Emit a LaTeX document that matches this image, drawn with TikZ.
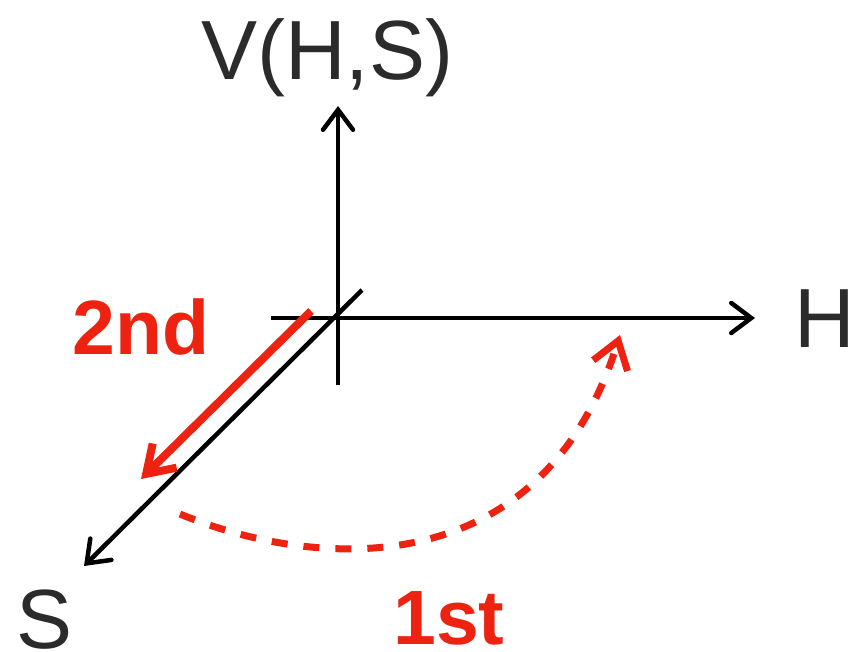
\documentclass[tikz,border=0pt]{standalone}
\usepackage{fontspec}
\setmainfont{Liberation Sans}
\usetikzlibrary{arrows.meta}
\definecolor{myred}{RGB}{238,34,17}
\definecolor{txtgray}{RGB}{43,43,43}
\begin{document}
\begin{tikzpicture}[x=1pt,y=-1pt,
  axis/.style={line width=4.5pt,black,-{Straight Barb[length=20pt,width=30pt,line cap=round]}},
  redarrow/.style={line width=8pt,myred,-{Straight Barb[length=26pt,width=34pt]}},
  reddash/.style={line width=7pt,myred,dash pattern=on 16pt off 16pt,-{Straight Barb[length=26pt,width=36pt]}},
  axlabel/.style={inner sep=0pt,text=txtgray,font=\fontsize{84}{90}\selectfont},
  redlabel/.style={inner sep=0pt,text=myred,font=\fontsize{77}{82}\selectfont\bfseries}]
\useasboundingbox (0,0) rectangle (849,651);
\fill[white] (0,0) rectangle (849,651);
% axis endpoints
\coordinate (vlo) at (338,385);
\coordinate (vhi) at (338,106);
\coordinate (hlo) at (271,318);
\coordinate (hhi) at (755,318);
\coordinate (slo) at (362,290);
\coordinate (shi) at (84,566);
\coordinate (r0) at (311,311);
\coordinate (r1) at (141,479);
\coordinate (d0) at (180,514);
\coordinate (d1) at (620,335);
% axes
\draw[axis] (vlo) -- (vhi);
\draw[axis] (hlo) -- (hhi);
\draw[axis] (slo) -- (shi);
% red arrows
\draw[redarrow] (r0) -- (r1);
\draw[reddash] (d0) .. controls (310,568) and (540,590) .. (d1);
% labels
\node[axlabel,anchor=base] (vlab) at (327,79) {V(H,S)};
\node[axlabel,anchor=base west] (hlab) at (794,347) {H};
\node[axlabel,anchor=base west] (slab) at (16,648) {S};
\node[redlabel,anchor=base west] (second) at (72,354) {2nd};
\node[redlabel,anchor=base west] (first) at (393,644) {1st};
\end{tikzpicture}
\end{document}
